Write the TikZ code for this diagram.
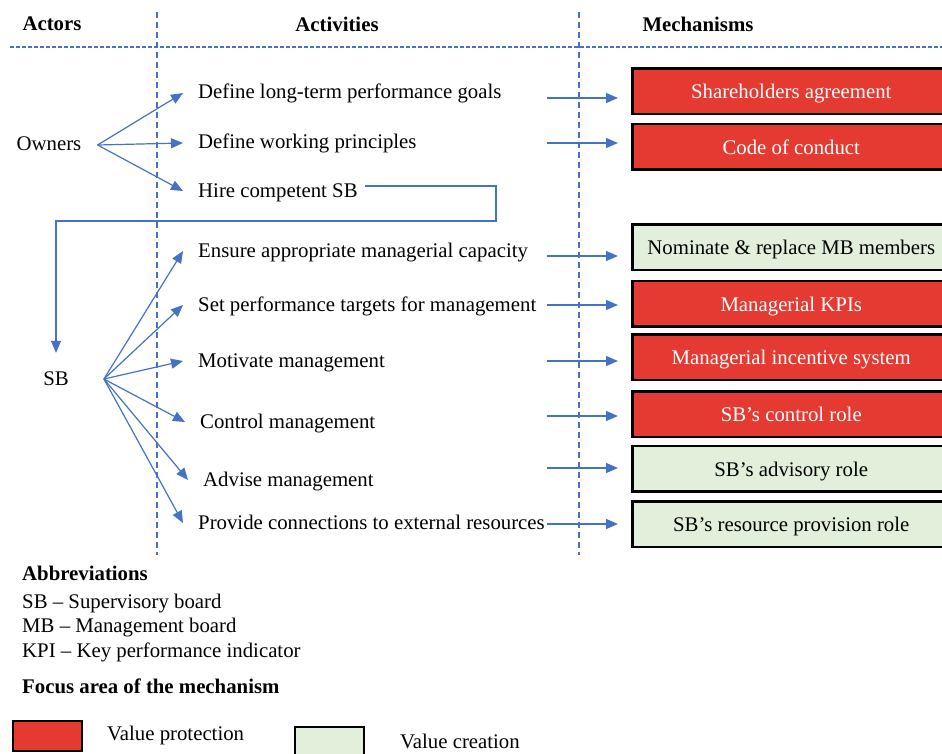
\documentclass[tikz,border=0pt]{standalone}
\usepackage{fontspec}
\setmainfont{Liberation Serif}
\usetikzlibrary{arrows.meta}
\definecolor{lineblue}{HTML}{4472C4}
\definecolor{protect}{HTML}{E53A32}
\definecolor{create}{HTML}{E2EFDA}

\begin{document}
\begin{tikzpicture}[x=1pt,y=-1pt,
  font=\fontsize{20.8}{25}\selectfont,
  arr/.style={draw=lineblue, line width=1.2pt, -{Triangle[length=12pt,width=10pt]}},
  colrule/.style={draw=lineblue, line width=1.2pt, dash pattern=on 6pt off 4pt},
  headrule/.style={draw=lineblue, line width=1.2pt, dash pattern=on 4pt off 2pt},
  head/.style={font=\fontsize{20.8}{25}\selectfont\bfseries, inner sep=0pt},
  plain/.style={inner sep=0pt, anchor=west},
  actor/.style={inner ysep=0pt, text height=16pt, text depth=4pt},
  act/.style={inner xsep=15pt, inner ysep=0pt, anchor=west, text height=16pt, text depth=4pt},
  mech/.style={draw=black, line width=2.5pt, minimum width=318pt, minimum height=45.5pt,
    inner sep=0pt, anchor=west, text height=16pt, text depth=1pt},
  prot/.style={mech, fill=protect, text=white},
  crea/.style={mech, fill=create, text=black},
  legbox/.style={draw=black, line width=2pt, minimum width=69pt, minimum height=30pt, inner sep=0pt},
]
\useasboundingbox (0,0) rectangle (942,754);

% column headings and rules
\node[head] (hactors) at (52,24) {Actors};
\node[head] (hacts) at (337,24) {Activities};
\node[head] (hmechs) at (698,24) {Mechanisms};
\draw[headrule] (10,47) -- (942,47);
\draw[colrule] (157,12) -- (157,555);
\draw[colrule] (579,12) -- (579,555);

% actors
\node[actor, inner xsep=16pt] (owners) at (49,145) {Owners};
\node[actor, inner xsep=35pt] (sb) at (56,379) {SB};

% activities
\node[act] (a1) at (183,93) {Define long-term performance goals};
\node[act] (a2) at (183,143) {Define working principles};
\node[act] (a3) at (183,191) {Hire competent SB};
\node[act] (b1) at (183,251) {Ensure appropriate managerial capacity};
\node[act] (b2) at (183,305) {Set performance targets for management};
\node[act] (b3) at (183,361) {Motivate management};
\node[act] (b4) at (185,422) {Control management};
\node[act] (b5) at (188,480) {Advise management};
\node[act] (b6) at (183,523) {Provide connections to external resources};

% mechanisms
\node[prot] (m1) at (631,91.5) {Shareholders agreement};
\node[prot] (m2) at (631,147) {Code of conduct};
\node[crea] (m3) at (631,247) {Nominate \& replace MB members};
\node[prot] (m4) at (631,303.5) {Managerial KPIs};
\node[prot] (m5) at (631,357) {Managerial incentive system};
\node[prot] (m6) at (631,414) {SB’s control role};
\node[crea] (m7) at (631,468.5) {SB’s advisory role};
\node[crea] (m8) at (631,524) {SB’s resource provision role};

% owners to their activities
\foreach \t in {a1,a2,a3} \draw[arr] (owners.east) -- (\t.west);
% supervisory board to its activities
\foreach \t in {b1,b2,b3,b4,b5,b6} \draw[arr] (sb.east) -- (\t.west);

% hiring the supervisory board
\coordinate (loopstart) at (365,186);
\draw[arr, shorten >=16pt] (loopstart) -| ++(131,35) -| (sb.north);

% activities to mechanisms
\foreach \i/\y in {1/98,2/143,3/256,4/305,5/361,6/416,7/468,8/524}{
  \coordinate (s\i) at (547,\y);
  \draw[arr, shorten >=13pt] (s\i) -- (s\i -| m\i.west);
}

% abbreviations
\node[plain, font=\fontsize{20.8}{25}\selectfont\bfseries] (abbr) at (22,573) {Abbreviations};
\node[plain] (ab1) at (22,604) {SB – Supervisory board};
\node[plain] (ab2) at (22,628) {MB – Management board};
\node[plain] (ab3) at (22,652) {KPI – Key performance indicator};

% legend
\node[plain, font=\fontsize{20.8}{25}\selectfont\bfseries] (focus) at (22,686) {Focus area of the mechanism};
\node[legbox, fill=protect] (lp) at (47.5,736) {};
\node[plain] (lpt) at (107,735) {Value protection};
\node[legbox, fill=create] (lc) at (329,742) {};
\node[plain] (lct) at (400,741) {Value creation};
\end{tikzpicture}
\end{document}
